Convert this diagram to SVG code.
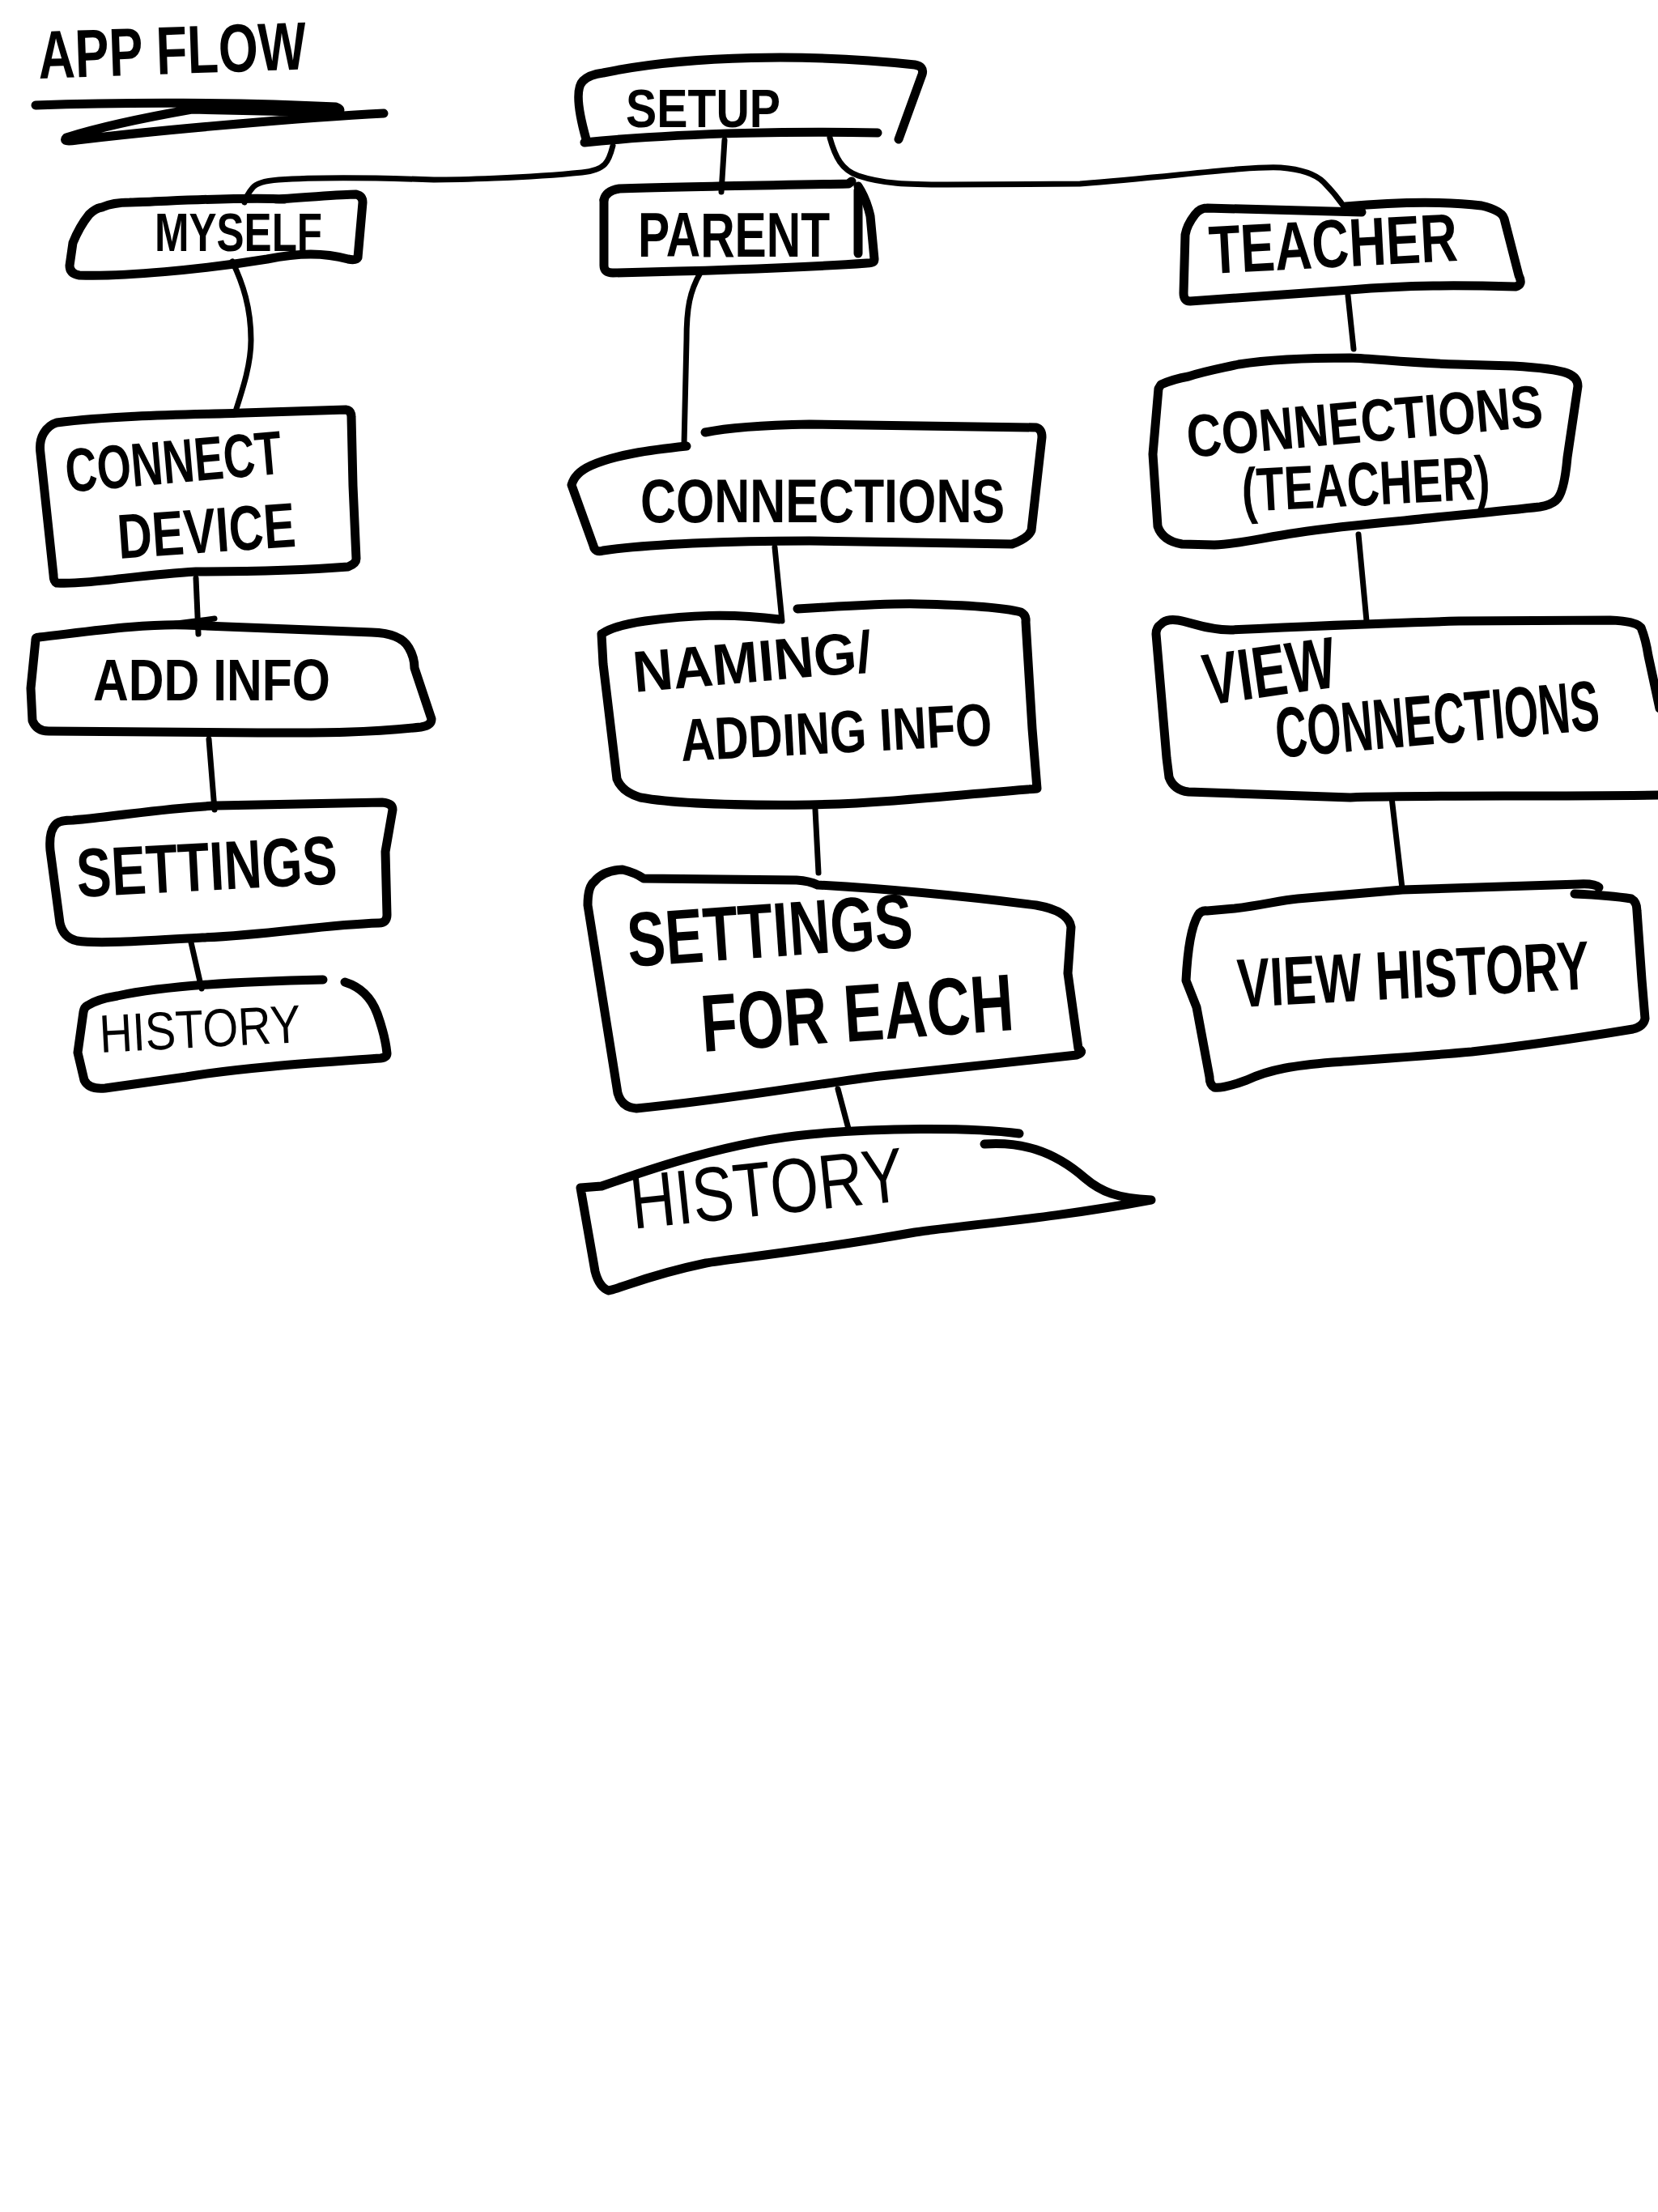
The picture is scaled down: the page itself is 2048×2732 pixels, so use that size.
<svg xmlns="http://www.w3.org/2000/svg" width="2048" height="2732" viewBox="0 0 2048 2732">
<style>
.box{fill:none;stroke:#000;stroke-width:11;stroke-linecap:round;stroke-linejoin:round}
.conn{fill:none;stroke:#000;stroke-width:7;stroke-linecap:round;stroke-linejoin:round}
.lbl{font-family:"Liberation Sans",Arial,sans-serif;font-weight:bold;fill:#000}
.thin{font-family:"Liberation Sans",Arial,sans-serif;font-weight:normal;fill:#000}
</style>
<rect width="2048" height="2732" fill="#fff"/>
<g id="title">
<text class="lbl" x="0" y="0" font-size="84" transform="translate(48 97) rotate(-2) scale(0.75 1)">APP FLOW</text>
<path class="box" stroke-width="13" d="M44,130 C150,126 300,126 415,132 Q425,136 415,139 L237,135 C180,145 120,158 82,170 Q76,176 95,173 C200,160 380,145 474,140"/>
</g>
<g id="connectors">
<path class="conn" d="M757,180 C752,200 748,210 719,213 C650,220 560,222 536,222 C480,220 400,218 344,222 Q318,224 312,232 Q305,240 302,250"/>
<path class="conn" d="M895,173 L891,237"/>
<path class="conn" d="M1025,170 C1032,195 1040,210 1060,217 C1090,227 1120,228 1170,228 L1334,227 C1450,218 1540,205 1582,207 Q1620,210 1635,225 Q1650,240 1662,258"/>
<path class="conn" d="M287,323 C300,350 310,380 310,420 C310,450 300,480 290,511"/>
<path class="conn" d="M242,714 L245,783"/>
<path class="conn" d="M195,773 L265,764"/>
<path class="conn" d="M258,913 L265,1000"/>
<path class="conn" d="M236,1164 L249,1221"/>
<path class="conn" d="M865,337 C852,360 848,380 848,420 L845,549"/>
<path class="conn" d="M957,676 L966,767"/>
<path class="conn" d="M1007,1000 L1011,1078"/>
<path class="conn" d="M1035,1345 L1048,1394"/>
<path class="conn" d="M1665,365 L1672,431"/>
<path class="conn" d="M1678,660 L1688,767"/>
<path class="conn" d="M1719,985 L1732,1097"/>
</g>
<g id="setup">
<path class="box" d="M724,172 C715,140 710,110 720,100 Q728,92 745,90 C850,68 1000,66 1130,80 Q1142,82 1139,92 L1110,172"/>
<path class="box" d="M722,176 C850,163 1000,162 1084,164"/>
<text class="lbl" x="773" y="157" font-size="66" textLength="191" lengthAdjust="spacingAndGlyphs">SETUP</text>
</g>
<g id="myself">
<path class="box" d="M126,256 Q140,250 160,250 C220,248 300,243 352,246 M340,246 C380,244 420,240 440,240 Q448,242 448,250 L442,318 Q440,322 430,320 C400,312 370,312 330,320 C250,333 150,342 98,340 Q86,338 86,328 L90,300 Q98,280 110,265 Q118,257 126,256"/>
<text class="lbl" x="191" y="310" font-size="66" textLength="207" lengthAdjust="spacingAndGlyphs">MYSELF</text>
</g>
<g id="parent">
<path class="box" d="M746,247 Q748,236 765,233 C850,230 950,229 1048,227 L1052,224"/>
<path class="box" d="M1060,230 Q1070,245 1075,267 L1080,320 Q1080,325 1071,325 C1000,330 900,334 757,337 Q746,337 746,328 L746,247"/>
<path class="box" d="M1060,235 L1060,313"/>
<text class="lbl" x="788" y="317" font-size="78" textLength="237" lengthAdjust="spacingAndGlyphs">PARENT</text>
</g>
<g id="teacher">
<path class="box" d="M1491,257 L1682,262 M1662,255 C1720,250 1780,248 1830,254 Q1855,260 1858,270 L1876,340 Q1882,352 1872,354 C1800,352 1740,352 1668,358 L1470,372 Q1462,372 1462,362 L1464,290 Q1466,278 1476,265 Q1482,257 1491,257"/>
<text class="lbl" x="1495" y="338" font-size="84" textLength="307" lengthAdjust="spacingAndGlyphs" transform="rotate(-3 1495 338)">TEACHER</text>
</g>
<g id="connect-device">
<path class="box" d="M70,522 C150,512 250,512 300,510 L427,506 Q434,507 434,515 L436,600 L440,690 Q440,696 430,700 C380,704 300,706 242,706 C170,710 110,722 70,720 Q66,718 66,710 L50,560 Q48,545 54,535 Q60,525 70,522 Z"/>
<text class="lbl" x="83" y="608" font-size="76" textLength="268" lengthAdjust="spacingAndGlyphs" transform="rotate(-5 83 608)">CONNECT</text>
<text class="lbl" x="147" y="690" font-size="78" textLength="220" lengthAdjust="spacingAndGlyphs" transform="rotate(-4 147 690)">DEVICE</text>
</g>
<g id="add-info">
<path class="box" d="M48,787 C110,780 180,770 230,772 L459,781 Q495,782 505,800 Q512,812 512,825 L533,888 Q533,896 520,898 C450,906 380,905 319,905 L60,903 Q45,903 40,890 L38,850 L44,790 Q44,787 48,787 Z"/>
<text class="lbl" x="115" y="865" font-size="72" textLength="293" lengthAdjust="spacingAndGlyphs">ADD  INFO</text>
</g>
<g id="settings">
<path class="box" d="M70,1017 Q75,1013 90,1013 C150,1008 200,998 268,995 L472,991 Q485,992 485,1000 L476,1052 L478,1130 Q478,1140 468,1140 C400,1142 330,1155 250,1158 C180,1162 120,1166 95,1162 Q78,1158 74,1140 L62,1050 Q60,1025 70,1017 Z"/>
<text class="lbl" x="96" y="1108" font-size="85" textLength="322" lengthAdjust="spacingAndGlyphs" transform="rotate(-3 96 1108)">SETTINGS</text>
</g>
<g id="history-myself">
<path class="box" d="M108,1242 Q120,1234 145,1230 C200,1218 300,1212 399,1210 M426,1213 Q455,1222 466,1252 Q476,1280 478,1301 Q478,1306 470,1307 C400,1312 300,1318 230,1330 L130,1344 Q110,1346 104,1334 L96,1300 L103,1250 Q104,1244 108,1242"/>
<text class="thin" x="124" y="1300" font-size="66" textLength="249" lengthAdjust="spacingAndGlyphs" transform="rotate(-3 124 1300)">HISTORY</text>
</g>
<g id="connections">
<path class="box" d="M848,551 C800,556 760,562 730,575 Q710,584 706,599 L733,674 Q735,683 745,680 C800,672 900,668 1000,668 L1250,672 Q1270,665 1274,655 L1287,540 Q1287,530 1280,528 L1000,524 C950,525 900,528 871,534"/>
<text class="lbl" x="791" y="645" font-size="76" textLength="450" lengthAdjust="spacingAndGlyphs">CONNECTIONS</text>
</g>
<g id="naming">
<path class="box" d="M743,783 Q760,772 797,767 C850,760 900,757 963,765 M985,752 C1050,748 1100,745 1134,746 Q1230,748 1261,756 Q1268,760 1267,768 L1275,900 L1281,974 C1200,980 1100,992 1000,994 C900,995 830,992 791,985 Q768,978 762,962 L745,820 L743,783"/>
<text class="lbl" x="784" y="855" font-size="72" textLength="296" lengthAdjust="spacingAndGlyphs" transform="rotate(-5 784 855)">NAMING/</text>
<text class="lbl" x="842" y="940" font-size="74" textLength="385" lengthAdjust="spacingAndGlyphs" transform="rotate(-3 842 940)">ADDING INFO</text>
</g>
<g id="settings-each">
<path class="box" d="M734,1089 Q745,1075 769,1074 Q785,1078 795,1085 L984,1087 Q1000,1088 1010,1093 C1100,1098 1200,1108 1280,1118 Q1320,1125 1323,1145 L1319,1202 L1332,1295 Q1340,1300 1330,1303 C1250,1312 1150,1322 1087,1329 C1000,1340 900,1358 786,1369 Q768,1368 763,1350 L726,1118 Q726,1095 734,1089 Z"/>
<text class="lbl" x="777" y="1194" font-size="95" textLength="353" lengthAdjust="spacingAndGlyphs" transform="rotate(-4 777 1194)">SETTINGS</text>
<text class="lbl" x="868" y="1299" font-size="100" textLength="387" lengthAdjust="spacingAndGlyphs" transform="rotate(-4 868 1299)">FOR EACH</text>
</g>
<g id="history-parent">
<path class="box" d="M717,1467 L743,1465 C800,1445 900,1410 1001,1401 C1080,1393 1200,1392 1259,1400 M1216,1413 C1260,1410 1300,1420 1340,1455 C1360,1472 1380,1480 1422,1482 C1300,1505 1200,1512 1130,1522 C1000,1545 900,1555 872,1560 C800,1575 770,1590 752,1594 Q740,1590 735,1570 L717,1467"/>
<text class="thin" x="782" y="1518" font-size="95" textLength="339" lengthAdjust="spacingAndGlyphs" transform="rotate(-6 782 1518)">HISTORY</text>
</g>
<g id="connections-teacher">
<path class="box" d="M1434,475 Q1450,468 1468,465 C1490,458 1508,455 1530,450 C1555,446 1600,442 1668,442 C1700,443 1735,448 1800,450 L1869,452 Q1920,455 1936,461 Q1949,466 1949,477 L1936,565 Q1932,610 1922,618 Q1915,624 1902,626 C1850,632 1780,638 1735,643 C1680,648 1640,652 1602,658 C1560,664 1530,672 1500,673 L1460,672 Q1436,668 1430,650 L1424,561 L1431,480 Z"/>
<text class="lbl" x="1468" y="565" font-size="74" textLength="441" lengthAdjust="spacingAndGlyphs" transform="rotate(-5 1468 565)">CONNECTIONS</text>
<text class="lbl" x="1535" y="632" font-size="76" textLength="307" lengthAdjust="spacingAndGlyphs" transform="rotate(-3 1535 632)">(TEACHER)</text>
</g>
<g id="view-connections">
<path class="box" d="M1434,771 Q1440,764 1455,766 C1470,768 1490,778 1520,778 C1600,774 1700,770 1802,767 L1989,766 Q2020,767 2027,775 Q2033,790 2036,810 L2050,875 M2050,982 C1900,984 1750,982 1668,985 L1468,978 Q1450,976 1444,960 L1441,936 L1428,783 Q1428,775 1434,771"/>
<text class="lbl" x="1491" y="871" font-size="90" textLength="164" lengthAdjust="spacingAndGlyphs" transform="rotate(-8 1491 871)">VIEW</text>
<text class="lbl" x="0" y="0" font-size="88" transform="translate(1578 936) rotate(-5) scale(0.617 1)">CONNECTIONS</text>
</g>
<g id="view-history">
<path class="box" d="M1491,1125 L1525,1122 C1560,1118 1580,1112 1603,1110 L1732,1099 L1950,1092 Q1970,1091 1975,1096 M1945,1104 Q1990,1106 2015,1110 Q2022,1114 2022,1125 L2028,1210 L2032,1258 Q2030,1268 2017,1271 C1950,1282 1880,1292 1818,1299 C1750,1305 1700,1308 1646,1312 C1600,1316 1570,1320 1540,1334 Q1510,1345 1500,1343 Q1494,1340 1494,1330 L1478,1244 L1465,1211 Q1468,1150 1480,1130 Q1484,1124 1491,1125"/>
<text class="lbl" x="0" y="0" font-size="85" transform="translate(1530 1244) rotate(-3) scale(0.709 1)">VIEW  HISTORY</text>
</g>
</svg>
